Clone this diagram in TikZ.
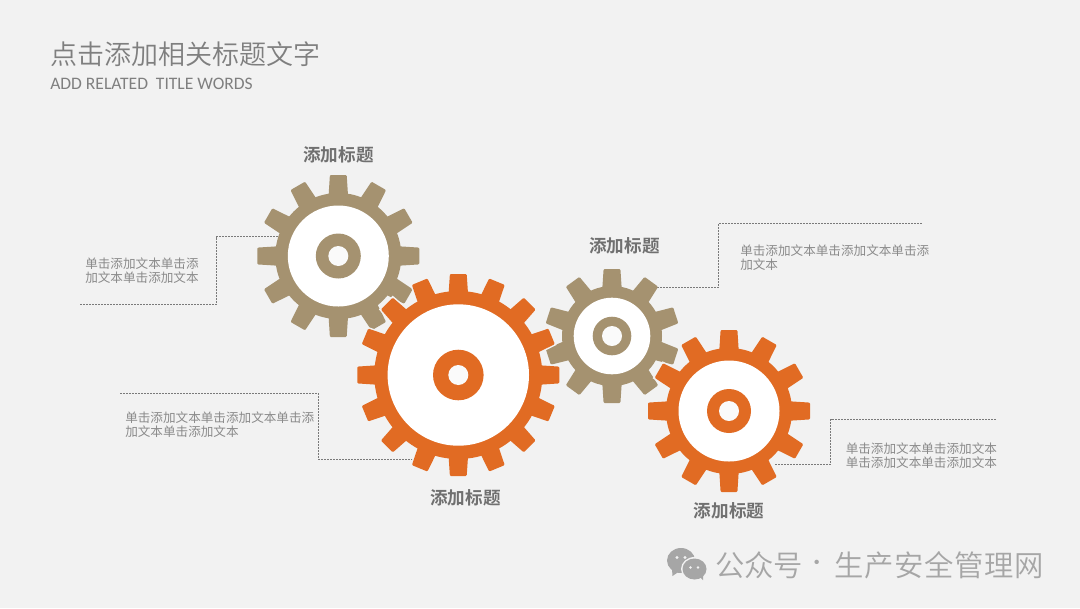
\documentclass[tikz,border=0pt]{standalone}
\usepackage{fontspec}
\setmainfont{Carlito}
\newfontfamily\cjk{Noto Sans CJK SC}
\newfontfamily\cjklight{Noto Sans CJK SC DemiLight}
\newfontfamily\cjkbold{Noto Sans CJK SC Bold}
\definecolor{pagebg}{HTML}{F2F2F2}
\definecolor{tan}{HTML}{A59270}
\definecolor{rust}{HTML}{E16B23}
\definecolor{titlegray}{HTML}{7F7F7F}
\definecolor{bodygray}{HTML}{8A8A8A}
\definecolor{headgray}{HTML}{707070}
\definecolor{markgray}{HTML}{A6A6A6}
\definecolor{leader}{HTML}{7A7A7A}
\newcommand{\geargroup}[8]{%
 % #1 x, #2 y, #3 teeth, #4 outer, #5 root, #6 window, #7 hub, #8 colour
 \begin{scope}[shift={(#1,#2)}]
  \foreach \k in {1,...,#3}{
   \fill[#8,rotate=\k*360/#3,rounded corners=0.8pt] (-9.8,#5-4) -- (-8.4,#4) -- (8.4,#4) -- (9.8,#5-4) -- cycle;
  }
  \fill[#8] (0,0) circle[radius=#5];
  \fill[white] (0,0) circle[radius=#6];
  \fill[#8] (0,0) circle[radius=#7];
  \fill[pagebg!40!white] (0,0) circle[radius=10];
 \end{scope}}
\newcommand{\gearhalo}[4]{%
 \begin{scope}[shift={(#1,#2)}]
  \foreach \k in {1,...,#3}{
   \draw[pagebg,fill=pagebg,line width=2.2pt,rotate=\k*360/#3] (-9.8,#4-20) -- (-8.4,#4) -- (8.4,#4) -- (9.8,#4-20) -- cycle;
  }
 \end{scope}}
\tikzset{
 x=0.75pt,y=-0.75pt,
 heading/.style={inner sep=0pt,text=headgray,font=\cjkbold\fontsize{13.2pt}{15pt}\selectfont},
 bodytext/.style={inner sep=0pt,anchor=west,align=left,text=bodygray,font=\cjk\fontsize{9.45pt}{10.7pt}\selectfont},
 leaderline/.style={leader,line width=0.75pt,dash pattern=on 1.5pt off 0.75pt},
}
\begin{document}
\begin{tikzpicture}
\useasboundingbox (0,0) rectangle (1080,608);
\fill[pagebg] (0,0) rectangle (1080,608);

\node[inner sep=0pt,anchor=west,text=titlegray,font=\cjklight\fontsize{20.25pt}{24pt}\selectfont] (title) at (50,54) {点击添加相关标题文字};
\node[inner sep=0pt,anchor=west,text=titlegray,font=\fontsize{13.15pt}{15pt}\selectfont] (subtitle) at (50,83.5) {ADD RELATED\ \ TITLE WORDS};

% leaders
\coordinate (l1a) at (80,304.5); \coordinate (l1b) at (216.5,304.5); \coordinate (l1c) at (216.5,236.5); \coordinate (l1d) at (279,236.5);
\coordinate (l2a) at (120,393.5); \coordinate (l2b) at (318.5,393.5); \coordinate (l2c) at (318.5,459.5); \coordinate (l2d) at (416,459.5);
\coordinate (l3a) at (657,287.5); \coordinate (l3b) at (718.5,287.5); \coordinate (l3c) at (718.5,223.5); \coordinate (l3d) at (922,223.5);
\coordinate (l4a) at (775,464.5); \coordinate (l4b) at (830.5,464.5); \coordinate (l4c) at (830.5,419.5); \coordinate (l4d) at (997,419.5);
\draw[leaderline] (l1a) -- (l1b) -- (l1c) -- (l1d);
\draw[leaderline] (l2a) -- (l2b) -- (l2c) -- (l2d);
\draw[leaderline] (l3a) -- (l3b) -- (l3c) -- (l3d);
\draw[leaderline] (l4a) -- (l4b) -- (l4c) -- (l4d);

% gears
\geargroup{338.3}{256}{12}{81}{63}{50.5}{22.5}{tan}
\geargroup{612}{336}{10}{67}{50}{38.3}{19.3}{tan}
\gearhalo{458.3}{375}{16}{101}
\geargroup{458.3}{375}{16}{101}{84}{70.7}{25.3}{rust}
\gearhalo{729}{411}{12}{81}
\geargroup{729}{411}{12}{81}{63}{50.5}{22}{rust}

% headings
\node[heading] (h1) at (338.5,155) {添加标题};
\node[heading] (h2) at (465.5,497.5) {添加标题};
\node[heading] (h3) at (624.5,246) {添加标题};
\node[heading] (h4) at (729,511) {添加标题};

% body text
\node[bodytext] (t1) at (85,271) {单击添加文本单击添\\加文本单击添加文本};
\node[bodytext] (t2) at (125,425) {单击添加文本单击添加文本单击添\\加文本单击添加文本};
\node[bodytext] (t3) at (740,257.5) {单击添加文本单击添加文本单击添\\加文本};
\node[bodytext] (t4) at (845.5,456) {单击添加文本单击添加文本\\单击添加文本单击添加文本};

% watermark icon
\begin{scope}[xshift=0.75pt]
\fill[markgray] (680,560.5) ellipse[x radius=14,y radius=12.5];
\fill[markgray] (671,569) -- (671.5,576) -- (678,571.5) -- cycle;
\fill[pagebg] (693.5,569) ellipse[x radius=13.5,y radius=12];
\fill[markgray] (693.5,569) ellipse[x radius=12,y radius=10.5];
\fill[markgray] (698,576) -- (702,580) -- (702,574) -- cycle;
\fill[pagebg] (676,557.5) circle[radius=1.6];
\fill[pagebg] (684,557.5) circle[radius=1.6];
\fill[pagebg] (689.5,567.5) circle[radius=1.4];
\fill[pagebg] (697,567.5) circle[radius=1.4];
\end{scope}

\node[inner sep=0pt,anchor=west,text=markgray,font=\cjklight\fontsize{22pt}{24pt}\selectfont] (mark) at (715,565.5) {公众号};
\node[inner sep=0pt,text=markgray,font=\cjklight\fontsize{16pt}{24pt}\selectfont] (dot) at (817,565.5) {·};
\node[inner sep=0pt,anchor=west,text=markgray,font=\cjklight\fontsize{22pt}{24pt}\selectfont] (mark2) at (834.5,565.5) {生\kern0.5pt 产\kern0.5pt 安\kern0.5pt 全\kern0.5pt 管\kern0.5pt 理\kern0.5pt 网};
\end{tikzpicture}
\end{document}
